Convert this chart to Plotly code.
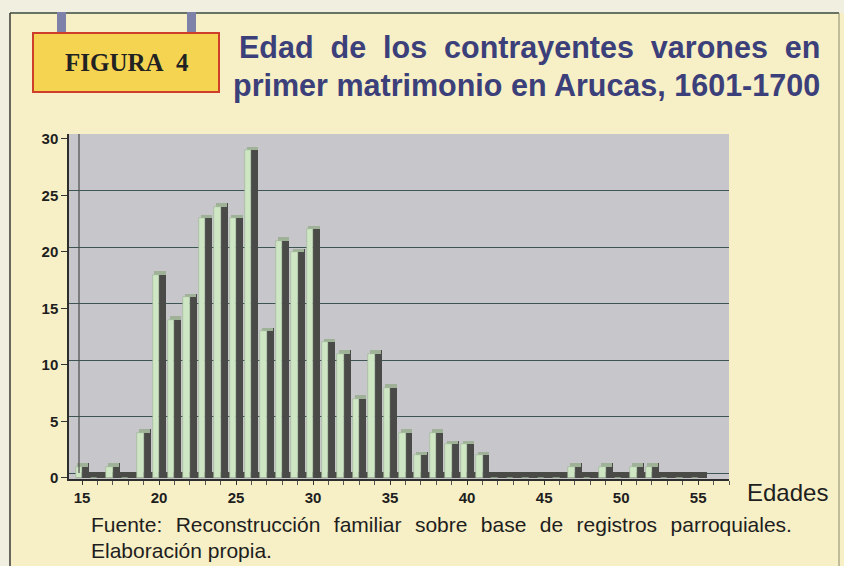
import plotly.graph_objects as go

# ---------------- data ----------------
edades = list(range(15, 56))
contrayentes = [1, 0, 1, 0, 4, 18, 14, 16, 23, 24, 23, 29, 13, 21, 20, 22,
                12, 11, 7, 11, 8, 4, 2, 4, 3, 3, 2, 0, 0, 0, 0, 0, 1, 0, 1,
                0, 1, 1, 0, 0, 0]
x_ticks = [15, 20, 25, 30, 35, 40, 45, 50, 55]
y_ticks = [0, 5, 10, 15, 20, 25, 30]

titulo_1 = "Edad de los contrayentes varones en"
titulo_2 = "primer matrimonio en Arucas, 1601-1700"
etiqueta = "FIGURA 4"
fuente_1 = "Fuente: Reconstrucción familiar sobre base de registros parroquiales."
fuente_2 = "Elaboración propia."
eje_x = "Edades"

# ---------------- geometry helpers (pixel -> paper) ----------------
W, H = 844, 566
L, R, T, B = 69, 729, 134, 479


def px(xp):
    return (xp - L) / (R - L)


def py(yp):
    return (B - yp) / (B - T)


FRONT = "#cfe6c4"
SIDE = "#4a4a48"
CAP = "#9fb298"
BG = "#f7efc5"
GRID = "#3d5555"
TXT = "#1e1e1e"
FONT = "Liberation Sans, Arial, sans-serif"

side_vals = [v + 0.3 if v > 0 else 0 for v in contrayentes]
cap_vals = [0.3 if v > 0 else 0 for v in contrayentes]
floor_vals = [0.5 for _ in edades]

fig = go.Figure()
# floor of the 3D plot
fig.add_trace(go.Bar(x=edades, y=floor_vals, offset=-0.42, width=1.0,
                     marker=dict(color="#4a4a47", line=dict(width=0)),
                     hoverinfo="skip", showlegend=False))
# dark side faces
fig.add_trace(go.Bar(x=edades, y=side_vals, offset=0.0, width=0.45,
                     marker=dict(color=SIDE, line=dict(width=0)),
                     hoverinfo="skip", showlegend=False))
# top caps
fig.add_trace(go.Bar(x=edades, y=cap_vals, base=contrayentes, offset=-0.3, width=0.72,
                     marker=dict(color=CAP, line=dict(width=0)),
                     hoverinfo="skip", showlegend=False))
# light front faces
fig.add_trace(go.Bar(x=edades, y=contrayentes, offset=-0.42, width=0.42,
                     marker=dict(color=FRONT, line=dict(color="#9cb396", width=0.6)),
                     name="Contrayentes", showlegend=False))
# invisible trace to carry the back-wall gridline axis
fig.add_trace(go.Scatter(x=[edades[0]], y=[0], yaxis="y2", mode="markers",
                         marker=dict(opacity=0), hoverinfo="skip", showlegend=False))

tickfont = dict(size=15, color=TXT, family=FONT, weight="bold")
fig.update_layout(
    width=W, height=H, autosize=False,
    margin=dict(l=L, r=W - R, t=T, b=H - B, pad=0),
    paper_bgcolor=BG, plot_bgcolor="#c7c6ca",
    barmode="overlay", bargap=0,
    font=dict(family=FONT, color=TXT),
    xaxis=dict(range=[14.156, 57.0], tickvals=x_ticks,
               ticktext=[str(v) for v in x_ticks],
               ticks="outside", ticklen=4, tickcolor="#333", tickwidth=1,
               minor=dict(tick0=15, dtick=1, ticks="outside", ticklen=4,
                          tickcolor="#555", showgrid=False),
               showgrid=False, zeroline=False,
               showline=True, linecolor="#2d2d2d", linewidth=1.5,
               tickfont=tickfont, fixedrange=True),
    yaxis=dict(range=[-0.09, 30.44], tickvals=y_ticks,
               ticks="outside", ticklen=6, tickcolor="#333",
               showgrid=False, zeroline=False,
               showline=True, linecolor="#2d2d2d", linewidth=1.5,
               tickfont=tickfont, fixedrange=True),
    yaxis2=dict(overlaying="y", range=[-0.53, 30.03], tickvals=y_ticks,
                showticklabels=False, ticks="", showgrid=True,
                gridcolor=GRID, gridwidth=1.3, zeroline=False,
                showline=False, fixedrange=True),
)

shapes = []
# outer light margin strips and frame
shapes.append(dict(type="rect", xref="paper", yref="paper",
                   x0=px(0), x1=px(W), y0=py(0), y1=py(13),
                   fillcolor="#f1efe0", line=dict(width=0), layer="above"))
shapes.append(dict(type="rect", xref="paper", yref="paper",
                   x0=px(0), x1=px(10), y0=py(0), y1=py(H),
                   fillcolor="#f1efe0", line=dict(width=0), layer="above"))
shapes.append(dict(type="line", xref="paper", yref="paper",
                   x0=px(10), x1=px(839), y0=py(13), y1=py(13),
                   line=dict(color="#3a4a40", width=1.5)))
shapes.append(dict(type="line", xref="paper", yref="paper",
                   x0=px(10), x1=px(10), y0=py(13), y1=py(H),
                   line=dict(color="#3a3a34", width=1.5)))
shapes.append(dict(type="line", xref="paper", yref="paper",
                   x0=px(839), x1=px(839), y0=py(13), y1=py(H),
                   line=dict(color="#8a8a70", width=1)))
# hanging posts
for x0 in (57, 187):
    shapes.append(dict(type="rect", xref="paper", yref="paper",
                       x0=px(x0), x1=px(x0 + 9), y0=py(12), y1=py(34),
                       fillcolor="#7e81a8", line=dict(width=0)))
# FIGURA box
shapes.append(dict(type="rect", xref="paper", yref="paper",
                   x0=px(33), x1=px(219), y0=py(33), y1=py(92),
                   fillcolor="#f5d452", line=dict(color="#cf3d2b", width=2)))
# back wall left edge (3D)
shapes.append(dict(type="line", xref="paper", yref="paper",
                   x0=px(79), x1=px(79), y0=py(473), y1=py(T),
                   line=dict(color="#4a4a4a", width=1.2)))
fig.update_layout(shapes=shapes)

ann = []
ann.append(dict(text="<b>FIGURA\u00a0\u00a04</b>", xref="paper", yref="paper",
                x=px(127), y=py(62), xanchor="center", yanchor="middle",
                showarrow=False,
                font=dict(family="Liberation Serif, Times New Roman, serif",
                          size=25, color="#222222")))
t1 = "\u00a0\u00a0".join(titulo_1.split(" "))
ann.append(dict(text="<b>" + t1 + "</b>", xref="paper", yref="paper",
                x=px(822), y=py(48), xanchor="right", yanchor="middle",
                showarrow=False,
                font=dict(size=30.5, color="#3c407a")))
ann.append(dict(text="<b>" + titulo_2 + "</b>", xref="paper", yref="paper",
                x=px(822), y=py(86), xanchor="right", yanchor="middle",
                showarrow=False,
                font=dict(size=30.5, color="#3c407a")))
ann.append(dict(text=eje_x, xref="paper", yref="paper",
                x=px(745), y=py(493), xanchor="left", yanchor="middle",
                showarrow=False, font=dict(size=24, color=TXT)))
f1 = "\u00a0\u00a0\u200a".join(fuente_1.split(" "))
ann.append(dict(text=f1, xref="paper", yref="paper",
                x=px(89), y=py(524), xanchor="left", yanchor="middle",
                showarrow=False, font=dict(size=21, color=TXT)))
ann.append(dict(text=fuente_2, xref="paper", yref="paper",
                x=px(89), y=py(550), xanchor="left", yanchor="middle",
                showarrow=False, font=dict(size=21, color=TXT)))
fig.update_layout(annotations=ann)

fig.write_html("out.html", config={"displayModeBar": False},
               post_script="document.body.style.margin='0';"
                           "document.body.style.overflow='hidden';")
